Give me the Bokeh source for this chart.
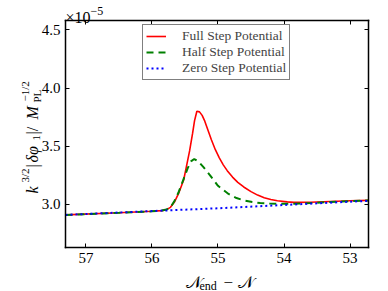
import math
from bokeh.plotting import figure
from bokeh.models import Range1d, FixedTicker, LinearAxis, Label, Legend, LegendItem
from bokeh.embed import file_html
from bokeh.resources import INLINE

# ---- data ----
n_zero = [57.31, 56.0, 55.0, 54.0, 53.0, 52.72]
v_zero = [2.910, 2.943, 2.967, 2.995, 3.024, 3.030]

n_full = [57.31, 56.5, 56.0, 55.85, 55.78, 55.72, 55.66, 55.60, 55.52, 55.48, 55.43,
          55.385, 55.355, 55.32, 55.28, 55.24, 55.20, 55.15, 55.10, 55.04, 54.98, 54.92,
          54.86, 54.78, 54.70, 54.61, 54.50, 54.40, 54.30, 54.20, 54.10, 53.95, 53.85,
          53.6, 53.3, 53.0, 52.72]
v_full = [2.910, 2.928, 2.941, 2.947, 2.955, 2.975, 3.02, 3.09, 3.21, 3.32, 3.46,
          3.61, 3.72, 3.80, 3.795, 3.765, 3.715, 3.635, 3.555, 3.47, 3.40, 3.34,
          3.29, 3.235, 3.19, 3.15, 3.11, 3.08, 3.058, 3.043, 3.032, 3.022, 3.018,
          3.019, 3.025, 3.031, 3.035]

n_half = [57.31, 56.5, 56.0, 55.85, 55.78, 55.72, 55.66, 55.60, 55.52, 55.46, 55.41,
          55.36, 55.30, 55.22, 55.12, 55.0, 54.84, 54.72, 54.61, 54.48, 54.36, 54.22,
          54.11, 53.95, 53.6, 53.3, 53.0, 52.72]
v_half = [2.910, 2.928, 2.941, 2.947, 2.956, 2.975, 3.03, 3.10, 3.22, 3.31, 3.37,
          3.39, 3.37, 3.32, 3.25, 3.16, 3.09, 3.055, 3.035, 3.02, 3.012, 3.008,
          3.006, 3.005, 3.012, 3.021, 3.029, 3.034]

x_ticks = [57, 56, 55, 54, 53]
x_labels = ["57", "56", "55", "54", "53"]
y_ticks = [3.0, 3.5, 4.0, 4.5]
y_labels = ["3.0", "3.5", "4.0", "4.5"]
x_lim = (57.31, 52.72)   # left, right (reversed axis)
y_lim = (2.63, 4.58)

SERIF = "serif"

# ---- layout: plot box in screen px ----
W, H = 388, 291
BL, BR, BT, BB = 65, 368, 20, 247
dx = (x_lim[1] - x_lim[0]) / (BR - BL)
dy = (y_lim[1] - y_lim[0]) / (BB - BT)
xr = Range1d(x_lim[0] - BL * dx, x_lim[0] + (W - BL) * dx)
yr = Range1d(y_lim[0] - (H - BB) * dy, y_lim[0] + BB * dy)

p = figure(width=W, height=H, output_backend="svg", toolbar_location=None,
           x_range=xr, y_range=yr, min_border=0)
p.background_fill_color = "white"
p.border_fill_color = "white"
p.outline_line_color = None
p.xgrid.visible = False
p.ygrid.visible = False

r_full = p.line(n_full, v_full, line_color="#ff0000", line_width=1.6)
r_half = p.line(n_half, v_half, line_color="#008000", line_width=2, line_dash="7 5")
r_zero = p.line(n_zero, v_zero, line_color="#0000ff", line_width=2, line_dash="2 3")

def style_axis(ax, ticks, labels, show_labels, loc, bounds):
    ax.fixed_location = loc
    ax.bounds = bounds
    ax.ticker = FixedTicker(ticks=[float(t) for t in ticks])
    if show_labels:
        ax.major_label_overrides = {float(t): l for t, l in zip(ticks, labels)}
    else:
        ax.major_label_overrides = {float(t): "" for t in ticks}
    ax.major_label_text_font_size = "15px"
    ax.major_label_standoff = 5
    ax.axis_line_color = "black"
    ax.axis_line_width = 1.5
    ax.axis_line_cap = "square"
    ax.major_tick_in = 4
    ax.major_tick_out = 0
    ax.major_tick_line_color = "black"
    ax.major_tick_line_width = 1
    ax.minor_tick_line_color = None
    ax.major_label_text_font = SERIF
    ax.major_label_text_color = "black"

xb = (min(x_lim), max(x_lim))
yb = (min(y_lim), max(y_lim))
style_axis(p.xaxis[0], x_ticks, x_labels, True, y_lim[0], xb)
style_axis(p.yaxis[0], y_ticks, y_labels, True, x_lim[0], yb)
p.xaxis[0].major_label_standoff = 5
top = LinearAxis()
right = LinearAxis()
p.add_layout(top, "above")
p.add_layout(right, "right")
style_axis(top, x_ticks, x_labels, False, y_lim[1], xb)
style_axis(right, y_ticks, y_labels, False, x_lim[1], yb)

legend = Legend(items=[LegendItem(label="Full Step Potential", renderers=[r_full]),
                       LegendItem(label="Half Step Potential", renderers=[r_half]),
                       LegendItem(label="Zero Step Potential", renderers=[r_zero])],
                location=(142, H - 80))
legend.label_text_font = SERIF
legend.label_text_font_size = "13.5px"
legend.border_line_color = "black"
legend.border_line_width = 1.5
legend.background_fill_alpha = 1
legend.padding = 3
legend.margin = 0
legend.spacing = 0
legend.glyph_width = 20
legend.glyph_height = 14
legend.label_height = 14
legend.label_standoff = 16
p.add_layout(legend)

def lab(text, sx, sy, size, angle=0.0, italic=False):
    l = Label(x=sx, y=H - sy, x_units="screen", y_units="screen", text=text,
              text_font=SERIF, text_font_size=size, text_color="black",
              text_baseline="alphabetic", text_align="left", angle=angle,
              text_font_style="italic" if italic else "normal")
    p.add_layout(l)

# multiplier
lab("×10", 65, 17, "16px")
lab("−5", 90, 10, "12px")

# x-axis label
lab("𝒩", 185, 282, "17px")
lab("end", 199, 285, "12px")
lab("−", 223, 282, "17px")
lab("𝒩", 237, 282, "17px")

# y-axis label (rotated, reads bottom to top)
A = math.pi / 2
lab("k", 32, 193, "16px", A, True)
lab("3/2", 24, 182, "11px", A)
lab("|", 32, 167, "16px", A)
lab("δφ", 32, 162, "16px", A, True)
lab("1", 36, 140, "11px", A)
lab("|/", 32, 134, "16px", A)
lab("M", 32, 119, "16px", A, True)
lab("PL", 36, 102, "11px", A)
lab("−1/2", 24, 101, "11px", A)

open("out.html", "w").write(file_html(p, INLINE))
